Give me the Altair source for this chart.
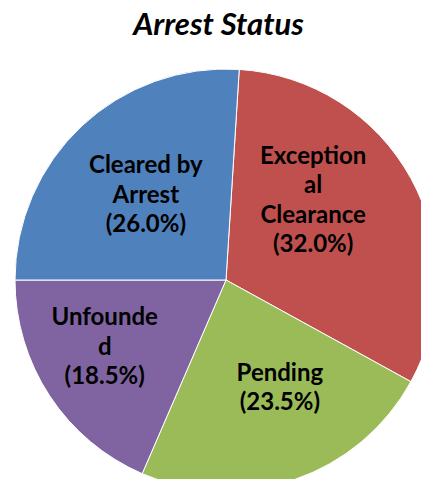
import altair as alt
import pandas as pd
import math

# Data (clockwise order starting just right of 12 o'clock)
categories = ["Exceptional Clearance", "Pending", "Unfounded", "Cleared by Arrest"]
label_lines = [["Exception", "al", "Clearance"], ["Pending"], ["Unfounde", "d"], ["Cleared by", "Arrest"]]
percents = [32.0, 23.5, 18.5, 26.0]
slice_order = [0, 1, 2, 3]
colors = ["#C0504D", "#9BBB59", "#8064A2", "#4F81BD"]

labels = ["\n".join(lines + [f"({p:.1f}%)"]) for lines, p in zip(label_lines, percents)]
n_lines = [len(lines) + 1 for lines in label_lines]

df = pd.DataFrame({
    "category": categories,
    "percent": percents,
    "order": slice_order,
    "label": labels,
})

start = 3.6 * math.pi / 180

theta = alt.Theta("percent:Q", stack=True,
                  scale=alt.Scale(range=[start, start + 2 * math.pi]))
color = alt.Color("category:N", scale=alt.Scale(domain=categories, range=colors), legend=None)
order = alt.Order("order:Q")

cx, cy = 218, 232
R = 211
LH = 29.5

base = alt.Chart(df).encode(theta=theta, order=order,
                            x=alt.value(cx), y=alt.value(cy))

arcs = base.mark_arc(outerRadius=R, stroke="white", strokeWidth=1, clip=True).encode(color=color)

# label nudges (Excel best-fit placement), plus centring of multi-line blocks
nudges = {
    "Cleared by Arrest": (2, 3),
    "Exceptional Clearance": (-18, -21),
    "Pending": (15, -5),
    "Unfounded": (-21, 2),
}

layers = [arcs]
for cat, n in zip(categories, n_lines):
    ndx, ndy = nudges[cat]
    layers.append(
        base.mark_text(radius=120, font="Lato", fontSize=24, fontWeight="bold",
                       lineHeight=LH, align="center", baseline="middle",
                       lineBreak="\n", color="black",
                       dx=ndx, dy=ndy - (n - 1) * LH / 2)
        .encode(text=alt.condition(alt.datum.category == cat,
                                   alt.Text("label:N"), alt.value("")))
    )

chart = alt.layer(*layers).properties(
    width=413,
    height=431,
    padding={"left": 0, "right": 0, "top": 2, "bottom": 0},
    title=alt.TitleParams("Arrest Status", font="Lato", fontSize=31, fontWeight="bold",
                          fontStyle="italic", color="black", offset=6, dx=4),
).configure_view(stroke=None)

chart.save("out.html", embed_options={"renderer": "svg", "actions": False})
